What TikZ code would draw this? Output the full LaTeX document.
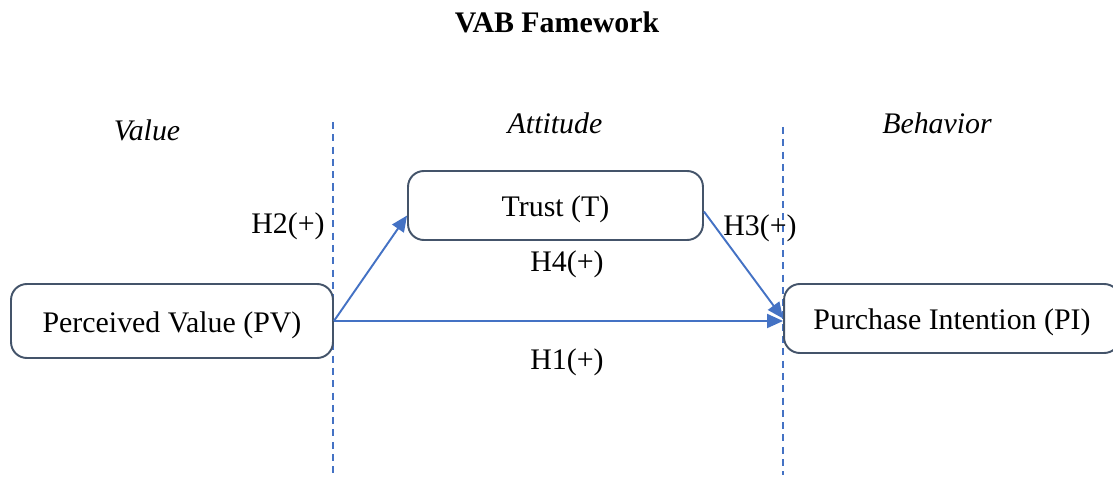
\documentclass[tikz,border=0pt]{standalone}
\usepackage{fontspec}
\setmainfont{Liberation Serif}
\usepackage{xcolor}
\usepackage{tikz}
\usetikzlibrary{arrows.meta, positioning, calc}
\definecolor{boxline}{HTML}{44546A}
\definecolor{linkblue}{HTML}{4472C4}

\begin{document}
\begin{tikzpicture}[
    x=0.02cm, y=-0.02cm,
    construct/.style={rectangle, rounded corners=9pt, draw=boxline, line width=1.1pt,
      fill=white, text height=17pt, text depth=4pt, font=\fontsize{17}{20}\selectfont},
    stage/.style={font=\fontsize{17}{20}\selectfont\itshape},
    hyp/.style={font=\fontsize{17}{20}\selectfont},
    divider/.style={draw=linkblue, line width=0.8pt, dash pattern=on 4pt off 3pt},
    link/.style={-{Triangle[length=3.2mm, width=2.8mm]}, draw=linkblue, fill=linkblue, line width=1.1pt}
]
\useasboundingbox (0,0) rectangle (1113,479);
\node[font=\fontsize{17}{20}\selectfont\bfseries] (title) at (557,22) {VAB Famework};
\draw[divider] (333,122) -- (333,475);
\draw[divider] (783,127) -- (783,475);
\node[stage] (value) at (147,130) {Value};
\node[stage] (attitude) at (555,123) {Attitude};
\node[stage] (behavior) at (937,123) {Behavior};
\node[construct, minimum width=6.44cm, minimum height=1.48cm] (PV) at (172,321) {Perceived Value (PV)};
\node[construct, minimum width=5.9cm, minimum height=1.38cm] (T) at (555.5,205.5) {Trust (T)};
\node[construct, minimum width=6.72cm, minimum height=1.38cm] (PI) at (952,318.5) {Purchase Intention (PI)};
\draw[link] (PV.east) -- ([yshift=-0.2cm]T.west);
\draw[link] (PV.east) -- (PV.east -| PI.west);
\draw[link] ([yshift=-0.12cm]T.east) -- (PI.west);
\node[hyp] (h2) at (288,226) {H2(+)};
\node[hyp] (h3) at (760,228) {H3(+)};
\node[hyp] (h4) at (567,264) {H4(+)};
\node[hyp] (h1) at (567,362) {H1(+)};
\end{tikzpicture}
\end{document}
